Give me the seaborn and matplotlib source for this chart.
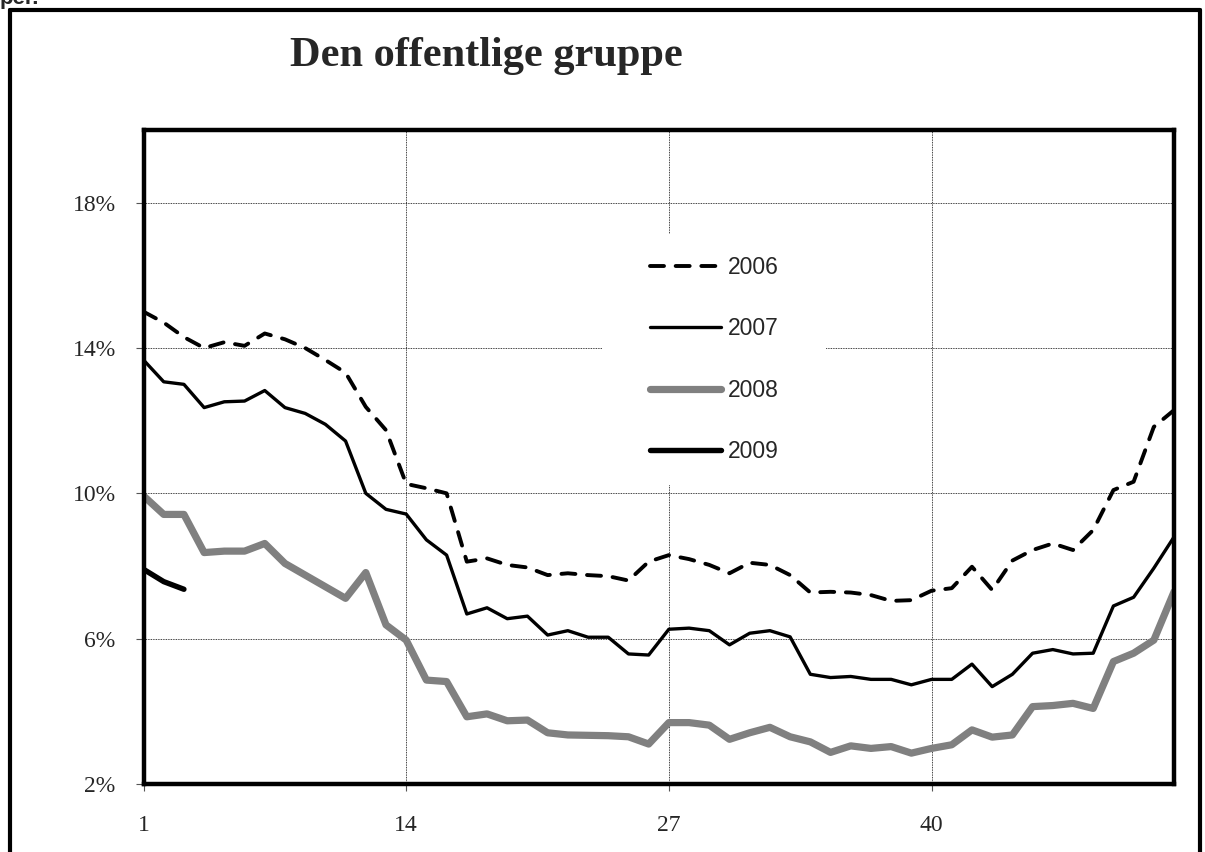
import matplotlib
matplotlib.use('Agg')
import matplotlib.pyplot as plt
from matplotlib.lines import Line2D
from matplotlib.patches import Rectangle
from matplotlib.ticker import FuncFormatter
import seaborn as sns
import pandas as pd

# weekly share (%) per year, weeks 1..52
weeks = list(range(1, 53))
y2006 = [15.0, 14.7, 14.3, 14.0, 14.16, 14.06, 14.4, 14.24, 14.0, 13.67,
         13.32, 12.38, 11.74, 10.26, 10.14, 10.0, 8.12, 8.21, 8.03, 7.96,
         7.75, 7.8, 7.75, 7.72, 7.6, 8.12, 8.3, 8.19, 8.03, 7.8,
         8.09, 8.03, 7.75, 7.27, 7.29, 7.27, 7.2, 7.04, 7.06, 7.32,
         7.39, 7.98, 7.34, 8.15, 8.44, 8.62, 8.44, 8.99, 10.09, 10.32,
         11.83, 12.29]
y2007 = [13.67, 13.07, 13.0, 12.36, 12.52, 12.54, 12.83, 12.36, 12.2, 11.9,
         11.44, 10.0, 9.56, 9.43, 8.72, 8.3, 6.68, 6.85, 6.55, 6.62,
         6.1, 6.22, 6.04, 6.04, 5.58, 5.55, 6.26, 6.29, 6.22, 5.83,
         6.15, 6.22, 6.05, 5.02, 4.93, 4.96, 4.88, 4.88, 4.73, 4.88,
         4.88, 5.3, 4.68, 5.02, 5.6, 5.7, 5.58, 5.6, 6.9, 7.14,
         7.94, 8.8]
y2008 = [9.93, 9.42, 9.42, 8.37, 8.41, 8.41, 8.62, 8.07, 7.75, 7.43,
         7.11, 7.82, 6.38, 5.96, 4.86, 4.82, 3.85, 3.93, 3.74, 3.76,
         3.41, 3.35, 3.34, 3.33, 3.30, 3.1, 3.69, 3.69, 3.62, 3.23,
         3.41, 3.56, 3.30, 3.16, 2.87, 3.05, 2.98, 3.03, 2.85, 2.98,
         3.08, 3.49, 3.29, 3.35, 4.13, 4.16, 4.22, 4.08, 5.37, 5.6,
         5.96, 7.29]
y2009 = [7.91, 7.57, 7.36]
year_labels = ['2006', '2007', '2008', '2009']
x_ticks = [1, 14, 27, 40]
y_ticks = [2, 6, 10, 14, 18]

sns.set_style('white')
plt.rcParams['font.family'] = ['Liberation Serif', 'DejaVu Serif']

fig = plt.figure(figsize=(12.05, 8.52), dpi=100)
ax = fig.add_axes([0.1191, 0.0798, 0.8552, 0.7676])

styles = [
    dict(color='black', linewidth=2.8, dashes=(3.6, 3.0), dash_capstyle='round'),
    dict(color='black', linewidth=2.4),
    dict(color='#808080', linewidth=5.2, solid_capstyle='round'),
    dict(color='black', linewidth=3.9, solid_capstyle='round'),
]
series = [y2006, y2007, y2008, y2009]
for vals, lab, st in zip(series, year_labels, styles):
    df = pd.DataFrame({'week': weeks[:len(vals)], 'share': vals})
    extra = {k: v for k, v in st.items() if k != 'dashes'}
    line_ax = sns.lineplot(data=df, x='week', y='share', ax=ax, label=lab, **extra)
    if 'dashes' in st:
        line_ax.lines[-1].set_dashes(st['dashes'])

ax.set_xlim(1, 52)
ax.set_ylim(2, 20)
ax.set_xticks(x_ticks)
ax.set_yticks(y_ticks)
ax.yaxis.set_major_formatter(FuncFormatter(lambda v, p: f'{v:.0f}%'))
ax.set_xlabel('')
ax.set_ylabel('')
ax.grid(True, color='black', linestyle=(0, (1, 1)), linewidth=0.6)
ax.set_axisbelow(True)
for sp in ax.spines.values():
    sp.set_visible(True)
    sp.set_color('black')
    sp.set_linewidth(3.2)
ax.tick_params(axis='y', direction='out', length=6, width=0.8, color='#555555',
               labelsize=17, pad=14, left=True)
ax.tick_params(axis='x', direction='out', length=5, width=0.8, color='#555555',
               labelsize=17, pad=17, bottom=True)

# white box behind legend
ax.add_patch(Rectangle((0.4449, 0.4572), 0.2174, 0.3838, transform=ax.transAxes,
                       facecolor='white', edgecolor='none', zorder=1))
leg = ax.legend(loc='center', bbox_to_anchor=(0.554, 0.649), frameon=False,
                prop={'family': 'Liberation Sans', 'size': 16.5},
                handlelength=3.1, handletextpad=0.3, labelspacing=1.68,
                borderpad=0, borderaxespad=0)

fig.text(486 / 1205, 1 - 56 / 852, 'Den offentlige gruppe', ha='center', va='center',
         fontsize=30.5, fontweight='bold', family='Liberation Serif')

# clipped text fragment at the very top left
fig.text(0.0, 1 - 4 / 852, 'per.', ha='left', va='baseline', fontsize=16,
         fontweight='bold', family='Liberation Sans')

# outer frame
W, H = 1205, 852
for (x0, y0, x1, y1) in [(9.5, 10, 9.5, 852), (9.5, 10, 1200, 10), (1200, 10, 1200, 852)]:
    fig.add_artist(Line2D([x0 / W, x1 / W], [1 - y0 / H, 1 - y1 / H],
                          transform=fig.transFigure, color='black', linewidth=3))

fig.savefig('out.png', dpi=100)
